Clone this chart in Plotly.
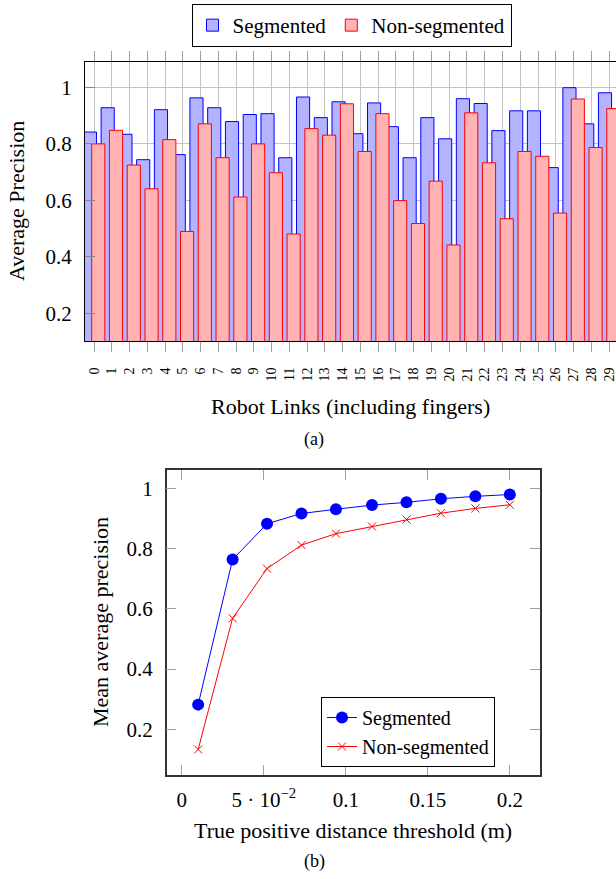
import plotly.graph_objects as go

# ---------------- data ----------------
links = list(range(30))
link_labels = [str(i) for i in links]
seg_ap = [0.842, 0.928, 0.834, 0.744, 0.921, 0.762, 0.963, 0.928, 0.879, 0.904,
          0.907, 0.751, 0.966, 0.893, 0.949, 0.836, 0.945, 0.861, 0.751, 0.893,
          0.818, 0.960, 0.943, 0.847, 0.917, 0.917, 0.716, 0.999, 0.871, 0.981]
nonseg_ap = [0.800, 0.848, 0.725, 0.641, 0.815, 0.490, 0.871, 0.751, 0.612, 0.800,
             0.698, 0.481, 0.854, 0.831, 0.942, 0.773, 0.907, 0.599, 0.518, 0.668,
             0.442, 0.910, 0.733, 0.535, 0.773, 0.756, 0.555, 0.959, 0.787, 0.925]

thresholds = [0.01, 0.031, 0.052, 0.073, 0.094, 0.116, 0.137, 0.158, 0.179, 0.2]
seg_map = [0.282, 0.764, 0.883, 0.917, 0.931, 0.945, 0.954, 0.966, 0.974, 0.980]
nonseg_map = [0.133, 0.569, 0.734, 0.812, 0.850, 0.874, 0.897, 0.918, 0.934, 0.946]

x2_tickvals = [0, 0.05, 0.1, 0.15, 0.2]
x2_ticktext = ["0", "5 · 10<sup>−2</sup>", "0.1", "0.15", "0.2"]
y_tickvals = [0.2, 0.4, 0.6, 0.8, 1.0]
y_ticktext = ["0.2", "0.4", "0.6", "0.8", "1"]

FONT = "Liberation Serif"
W, H = 616, 879
TICK = 21
TITLE = 22

fig = go.Figure()

fig.add_trace(go.Bar(
    x=links, y=seg_ap, name="Segmented", width=0.74, offset=-0.60,
    marker=dict(color="rgb(179,179,255)", line=dict(color="blue", width=1)),
    xaxis="x", yaxis="y", legend="legend"))
fig.add_trace(go.Bar(
    x=links, y=nonseg_ap, name="Non-segmented", width=0.74, offset=-0.13,
    marker=dict(color="rgb(255,179,179)", line=dict(color="red", width=1)),
    xaxis="x", yaxis="y", legend="legend"))

fig.add_trace(go.Scatter(
    x=thresholds, y=seg_map, name="Segmented", mode="lines+markers",
    line=dict(color="blue", width=1), marker=dict(symbol="circle", size=12, color="blue"),
    xaxis="x2", yaxis="y2", legend="legend2"))
fig.add_trace(go.Scatter(
    x=thresholds, y=nonseg_map, name="Non-segmented", mode="lines+markers",
    line=dict(color="red", width=1),
    marker=dict(symbol="x-thin", size=8, color="red", line=dict(color="red", width=1)),
    xaxis="x2", yaxis="y2", legend="legend2"))

def py(px):
    return 1 - px / H

def pxx(px):
    return px / W

fig.update_layout(
    width=W, height=H,
    margin=dict(l=0, r=0, t=0, b=0),
    paper_bgcolor="white", plot_bgcolor="white",
    font=dict(family=FONT, color="black", size=TICK),
    barmode="overlay",
    xaxis=dict(
        domain=[pxx(85), 1.0], range=[-0.507, 29.39],
        tickvals=links, ticktext=link_labels, tickangle=-90,
        tickfont=dict(size=14), ticks="outside", ticklen=10, tickcolor="#a0a0a0",
        showgrid=True, gridcolor="#c4c4c4", gridwidth=1,
        showline=True, linecolor="black", linewidth=1, mirror="ticks",
        zeroline=False, anchor="y", ticklabelstandoff=10, ticklabeloverflow="allow"),
    yaxis=dict(
        domain=[py(341), py(61.7)], range=[0.102, 1.091],
        tickvals=y_tickvals, ticktext=y_ticktext,
        ticks="inside", ticklen=10, tickcolor="#888888",
        showgrid=True, gridcolor="#c4c4c4", gridwidth=1,
        showline=True, linecolor="black", linewidth=1,
        zeroline=False, anchor="x", ticklabelstandoff=8),
    xaxis2=dict(
        domain=[pxx(166.7), pxx(540)], range=[-0.00917, 0.2184],
        tickvals=x2_tickvals, ticktext=x2_ticktext,
        ticks="inside", ticklen=10, tickcolor="#a0a0a0",
        showgrid=False, showline=True, linecolor="#333333", linewidth=1.5, mirror="ticks",
        zeroline=False, anchor="y2", ticklabelstandoff=5),
    yaxis2=dict(
        domain=[py(775), py(470)], range=[0.0482, 1.0615],
        tickvals=y_tickvals, ticktext=y_ticktext,
        ticks="inside", ticklen=10, tickcolor="#a0a0a0",
        showgrid=False, showline=True, linecolor="#333333", linewidth=1.5, mirror="ticks",
        zeroline=False, anchor="x2", ticklabelstandoff=8),
    legend=dict(
        orientation="h", x=pxx(351.5), xanchor="center", y=py(4), yanchor="top",
        bordercolor="black", borderwidth=1, bgcolor="white",
        font=dict(size=21), itemwidth=30, tracegroupgap=0),
    legend2=dict(
        orientation="v", x=pxx(321), xanchor="left", y=py(697), yanchor="top",
        bordercolor="black", borderwidth=1, bgcolor="white",
        font=dict(size=20), itemwidth=30),
    showlegend=True,
)

annotations = [
    dict(text="Average Precision", x=pxx(17), y=py(201), textangle=-90, size=TITLE),
    dict(text="Robot Links (including fingers)", x=pxx(350.5), y=py(406), textangle=0, size=TITLE),
    dict(text="(a)", x=pxx(314), y=py(439), textangle=0, size=18),
    dict(text="Mean average precision", x=pxx(100), y=py(622), textangle=-90, size=TITLE),
    dict(text="True positive distance threshold (m)", x=pxx(353), y=py(830), textangle=0, size=TITLE),
    dict(text="(b)", x=pxx(314), y=py(861), textangle=0, size=18),
]
for a in annotations:
    fig.add_annotation(text=a["text"], x=a["x"], y=a["y"], xref="paper", yref="paper",
                       xanchor="center", yanchor="middle", showarrow=False,
                       textangle=a["textangle"], font=dict(family=FONT, size=a["size"], color="black"))

fig.write_html("out.html", config={"displayModeBar": False},
               post_script="document.body.style.margin='0';document.body.style.overflow='hidden';")
